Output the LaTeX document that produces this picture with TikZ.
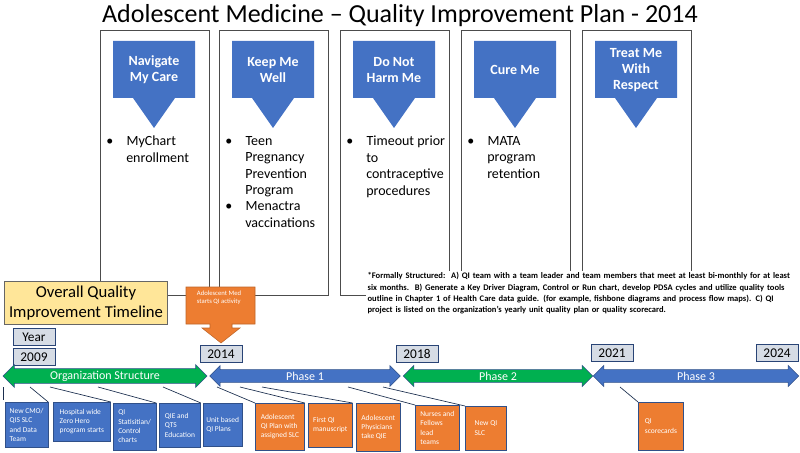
\documentclass[tikz,border=0pt]{standalone}
\usepackage{fontspec}
\setmainfont{Carlito}
\usetikzlibrary{shapes.arrows}
\definecolor{qblue}{HTML}{4472C4}
\definecolor{qgreen}{HTML}{00B050}
\definecolor{qorange}{HTML}{ED7D31}
\definecolor{qyellow}{HTML}{FFE699}
\definecolor{qgrey}{HTML}{D6DCE5}
\tikzstyle{col} = [draw=black!70, line width=0.6pt]
\tikzstyle{yearbox} = [draw=qblue!60!black, fill=qgrey, minimum width=31.5pt, minimum height=13pt, inner sep=0pt, font=\fontsize{10}{11}\selectfont]
\tikzstyle{phase} = [double arrow, double arrow head extend=3pt, minimum width=12pt, inner sep=1.5pt, draw=qblue!70!black, text=white, font=\fontsize{9}{10}\selectfont]
\tikzstyle{event} = [draw=qblue!70!black, text=white, anchor=north west, align=left, inner sep=2pt, font=\fontsize{5.6}{7}\selectfont]
\tikzstyle{link} = [draw=qblue!40!black, line width=0.5pt]
\begin{document}
\begin{tikzpicture}[x=0.75pt,y=-0.75pt]
        \useasboundingbox (0,0) rectangle (800,453);
        \node (title) at (400,16) {\fontsize{19.5}{21}\selectfont Adolescent Medicine -- Quality Improvement Plan - 2014};

        % five aims
        \foreach \x/\aim/\name in {100/{Navigate\\My Care}/nav, 219/{Keep Me\\Well}/keep, 340/{Do Not\\Harm Me}/harm, 461/{Cure Me}/cure, 582/{Treat Me\\With\\Respect}/treat} {
          \draw[col] (\x,30) rectangle (\x+109,295);
          \fill[qblue] (\x+13,41) -- (\x+95,41) -- (\x+95,98) -- (\x+75,98) -- (\x+54,128) -- (\x+33,98) -- (\x+13,98) -- cycle;
          \node[text=white, align=center, font=\bfseries\fontsize{10.5}{12}\selectfont] (\name) at (\x+54,70) {\aim};
        }
        \tikzstyle{bul} = [anchor=north west, align=left, font=\fontsize{10.5}{12.3}\selectfont, inner sep=0pt]
        \node[bul] (navtxt) at (106,136) {\textbullet\hspace{10pt}MyChart\\\hspace{15pt}enrollment};
        \node[bul] (keeptxt) at (225,136) {\textbullet\hspace{10pt}Teen\\\hspace{15pt}Pregnancy\\\hspace{15pt}Prevention\\\hspace{15pt}Program\\\textbullet\hspace{10pt}Menactra\\\hspace{15pt}vaccinations};
        \node[bul] (harmtxt) at (346,136) {\textbullet\hspace{10pt}Timeout prior\\\hspace{15pt}to\\\hspace{15pt}contraceptive\\\hspace{15pt}procedures};
        \node[bul] (curetxt) at (467,136) {\textbullet\hspace{10pt}MATA\\\hspace{15pt}program\\\hspace{15pt}retention};
        \node[anchor=north west, fill=white, inner sep=1pt, text width=318pt, align=left, font=\bfseries\fontsize{6.4}{8.4}\selectfont] (note) at (366,271) {*Formally Structured:\ \ A) QI team with a team leader and team members that meet at least bi-monthly for at least six months.\ \ B) Generate a Key Driver Diagram, Control or Run chart, develop PDSA cycles and utilize quality tools outline in Chapter 1 of Health Care data guide. (for example, fishbone diagrams and process flow maps). C) QI project is listed on the organization's yearly unit quality plan or quality scorecard.};

        % timeline
        \node[draw=black!60, fill=qyellow, minimum width=122pt, minimum height=28pt, align=center, font=\fontsize{12.5}{14.5}\selectfont] (overall) at (86,303) {Overall Quality\\Improvement Timeline};
        \fill[qorange, draw=qorange!80!black] (186,287) -- (255,287) -- (255,324) -- (232,324) -- (232,328) -- (240,328) -- (221,343) -- (202,328) -- (210,328) -- (210,324) -- (186,324) -- cycle;
        \node[text=white, align=left, font=\fontsize{5}{6.2}\selectfont] (start) at (219,298) {Adolescent Med\\starts QI activity};

        \node[yearbox] (year) at (34,337) {Year};
        \node[yearbox] (y2009) at (34,357) {2009};
        \node[yearbox] (y2014) at (221,354) {2014};
        \node[yearbox] (y2018) at (417,354) {2018};
        \node[yearbox] (y2021) at (612,353) {2021};
        \node[yearbox] (y2024) at (777,353) {2024};

        \node[phase, fill=qgreen, minimum height=153pt] (org) at (105,376) {Organization Structure};
        \node[phase, fill=qblue, minimum height=143pt] (ph1) at (305,376) {Phase 1};
        \node[phase, fill=qgreen, minimum height=142pt] (ph2) at (498,376) {Phase 2};
        \node[phase, fill=qblue, minimum height=154pt] (ph3) at (696,376) {Phase 3};

        % events
        \node[event, fill=qblue, minimum width=32pt, minimum height=34pt] (e1) at (5,402) {New CMO/\\QIS SLC\\and Data\\Team};
        \node[event, fill=qblue, minimum width=43pt, minimum height=29pt] (e2) at (53,402) {Hospital wide\\Zero  Hero\\program starts};
        \node[event, fill=qblue, minimum width=32pt, minimum height=35pt] (e3) at (113,403) {QI\\Statisitian/\\Control\\charts};
        \node[event, fill=qblue, minimum width=31pt, minimum height=33pt] (e4) at (159,403) {QIE and\\QTS\\Education};
        \node[event, fill=qblue, minimum width=29pt, minimum height=32pt] (e5) at (203,403) {Unit based\\QI Plans};
        \node[event, fill=qorange, minimum width=37pt, minimum height=35pt] (e6) at (255,403) {Adolescent\\QI Plan with\\assigned SLC};
        \node[event, fill=qorange, minimum width=33pt, minimum height=33pt] (e7) at (308,403) {First QI\\manuscript};
        \node[event, fill=qorange, minimum width=33pt, minimum height=36pt] (e8) at (356,403) {Adolescent\\Physicians\\take QIE};
        \node[event, fill=qorange, minimum width=33pt, minimum height=34pt] (e9) at (415,405) {Nurses and\\Fellows\\lead\\teams};
        \node[event, fill=qorange, minimum width=31pt, minimum height=33pt] (e10) at (465,406) {New QI\\SLC};
        \node[event, fill=qorange, minimum width=34pt, minimum height=36pt] (e11) at (638,402) {QI\\scorecards};

        \foreach \x in {3, 30, 50, 98, 163, 217, 240, 262, 348, 383, 620} {
          \coordinate (p\x) at (\x,387);
        }
        \draw[link] (p3) -- (3,400);
        \draw[link] (p30) -- (e1.north east);
        \draw[link] (p50) -- (e2.north east);
        \draw[link] (p98) -- (e3.north east);
        \draw[link] (p163) -- (e4.north east);
        \draw[link] (p217) -- (e6.north west);
        \draw[link] (p240) -- (e6.north east);
        \draw[link] (p262) -- (e7.north east);
        \draw[link] (p348) -- (e9.north west);
        \draw[link] (p383) -- (e10.north west);
        \draw[link] (p620) -- (e11.north west);
\end{tikzpicture}
\end{document}
